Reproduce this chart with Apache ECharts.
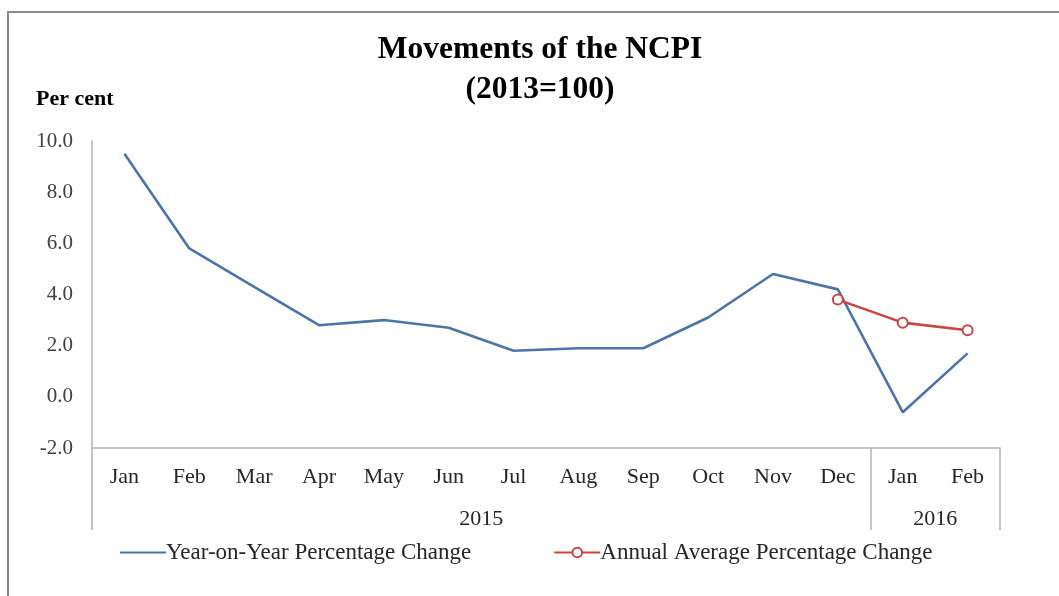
<!DOCTYPE html>
<html>
<head>
<meta charset="utf-8">
<script src="https://cdn.jsdelivr.net/npm/echarts@6/dist/echarts.min.js"></script>
<style>
html,body{margin:0;padding:0;background:#fff;}
#frame{position:absolute;left:7px;top:11px;width:1060px;height:600px;border-left:2px solid #8a8a8a;border-top:2px solid #8a8a8a;box-sizing:border-box;}
#chart{position:absolute;left:0;top:0;width:1059px;height:596px;}
</style>
</head>
<body>
<div id="frame"></div>
<div id="chart"></div>
<script>
var months = ['Jan','Feb','Mar','Apr','May','Jun','Jul','Aug','Sep','Oct','Nov','Dec','Jan','Feb'];
var years = ['2015','2016'];
var yearMonthCounts = [12, 2];
var yoyChange = [9.5, 5.8, 4.3, 2.8, 3.0, 2.7, 1.8, 1.9, 1.9, 3.1, 4.8, 4.2, -0.6, 1.7];
var annualAvgChange = [null, null, null, null, null, null, null, null, null, null, null, 3.8, 2.9, 2.6];
var yTicks = [-2, 0, 2, 4, 6, 8, 10];

var yearBounds = [0];
var yearCenters = [];
var acc = 0;
for (var i = 0; i < years.length; i++) {
  yearCenters.push(acc + yearMonthCounts[i] / 2);
  acc += yearMonthCounts[i];
  yearBounds.push(acc);
}

var serif = '"Liberation Serif","DejaVu Serif",serif';
var chart = echarts.init(document.getElementById('chart'), null, {renderer: 'canvas'});
chart.setOption({
  backgroundColor: 'transparent',
  animation: false,
  graphic: [{
    type: 'text', x: 540, y: 34,
    style: {text: 'Movements of the NCPI', textAlign: 'center', font: 'bold 31.5px ' + serif, fill: '#000'}
  }, {
    type: 'text', x: 540, y: 74,
    style: {text: '(2013=100)', textAlign: 'center', font: 'bold 31.5px ' + serif, fill: '#000'}
  }, {
    type: 'text', left: 36, top: 88,
    style: {text: 'Per cent', font: 'bold 22px ' + serif, fill: '#000'}
  }],
  legend: {
    left: 114, top: 536,
    itemWidth: 46, itemHeight: 12, itemGap: 82,
    textStyle: {fontFamily: serif, fontSize: 23, color: '#262626', padding: [0, 0, 0, -5]},
    data: [
      {name: 'Year-on-Year Percentage Change', itemStyle: {opacity: 0}},
      {name: 'Annual Average Percentage Change'}
    ]
  },
  grid: {left: 92, right: 59, top: 141, bottom: 148, containLabel: false},
  xAxis: [{
    type: 'category',
    data: months,
    boundaryGap: true,
    axisLine: {show: true, onZero: false, lineStyle: {color: '#b3b3b3', width: 1.5}},
    axisTick: {show: false},
    axisLabel: {fontFamily: serif, fontSize: 22, color: '#262626', margin: 18}
  }, {
    type: 'value',
    position: 'bottom',
    min: 0,
    max: months.length,
    axisLine: {show: false, onZero: false},
    splitLine: {show: false},
    axisTick: {show: true, length: 82, customValues: yearBounds, lineStyle: {color: '#b3b3b3', width: 1.5}},
    axisLabel: {
      show: true,
      customValues: yearCenters,
      margin: 60,
      fontFamily: serif, fontSize: 22, color: '#262626',
      formatter: function (v) {
        var idx = yearCenters.indexOf(v);
        return idx >= 0 ? years[idx] : '';
      }
    }
  }],
  yAxis: {
    type: 'value',
    min: yTicks[0],
    max: yTicks[yTicks.length - 1],
    interval: 2,
    axisLine: {show: true, lineStyle: {color: '#b3b3b3', width: 1.5}},
    axisTick: {show: false},
    splitLine: {show: false},
    axisLabel: {
      fontFamily: serif, fontSize: 21, color: '#404040', margin: 19,
      formatter: function (v) { return v.toFixed(1); }
    }
  },
  series: [{
    name: 'Year-on-Year Percentage Change',
    type: 'line',
    xAxisIndex: 0,
    data: yoyChange,
    symbol: 'none',
    lineStyle: {color: '#4C74A8', width: 2.6},
    itemStyle: {color: '#4C74A8'}
  }, {
    name: 'Annual Average Percentage Change',
    type: 'line',
    xAxisIndex: 0,
    data: annualAvgChange,
    symbol: 'emptyCircle',
    symbolSize: 10,
    lineStyle: {color: '#CC4444', width: 2.6},
    itemStyle: {color: '#CC4444', borderWidth: 1.5}
  }]
});
</script>
</body>
</html>
